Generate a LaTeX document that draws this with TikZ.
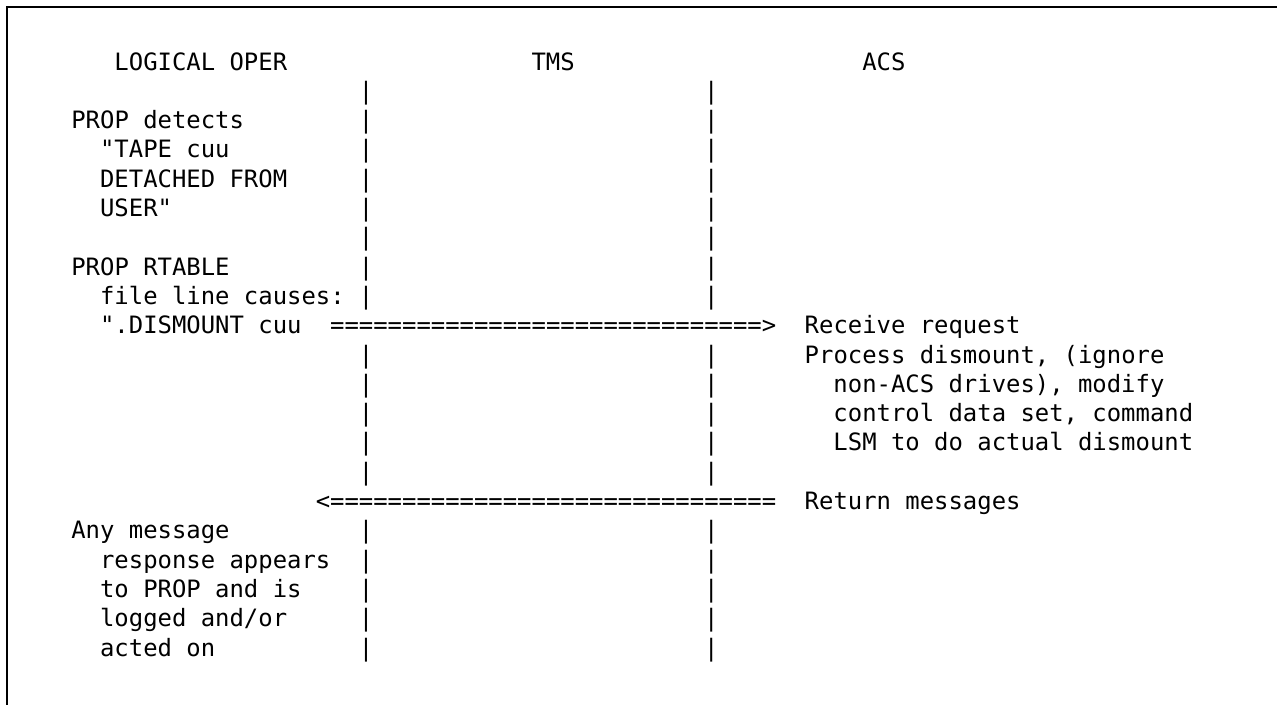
\documentclass[tikz,border=0pt]{standalone}
\usepackage{fontspec}
\setmonofont{DejaVu Sans Mono}
\frenchspacing

\begin{document}
\begin{tikzpicture}[x=0.2876cm, y=-0.586cm,
  font=\ttfamily\fontsize{13.6pt}{16pt}\selectfont,
  txt/.style={anchor=base west, inner sep=0pt}]

% Manually size the picture
\useasboundingbox (-1.42cm, 1.40cm) rectangle (24.12cm, -12.68cm);

% Frame, cut off at the right and at the bottom
\draw[line width=1.5pt] (-1.28cm, -12.9cm) -- (-1.28cm, 1.26cm) -- (24.4cm, 1.26cm);

% Column heads
\node[txt] (oper) at (3, 0) {LOGICAL OPER};
\node[txt] (tms) at (32, 0) {TMS};
\node[txt] (acs) at (55, 0) {ACS};

% Bars between the columns
\foreach \r in {1,2,3,4,5,6,7,8,10,11,12,13,14,16,17,18,19,20} {
  \node[txt] (tmsbar\r) at (20, \r) {|};
  \node[txt] (acsbar\r) at (44, \r) {|};
}

% PROP sees the detach message
\node[txt] (detects) at (0, 2) {PROP detects};
\node[txt] (tape) at (2, 3) {"TAPE cuu};
\node[txt] (detached) at (2, 4) {DETACHED FROM};
\node[txt] (user) at (2, 5) {USER"};

% RTABLE entry
\node[txt] (rtable) at (0, 7) {PROP RTABLE};
\node[txt] (causes) at (2, 8) {file line causes:};
\node[txt] (dismount) at (2, 9) {".DISMOUNT cuu};

% Request to ACS
\node[txt] (reqarrow) at (18, 9) {==============================>};
\node[txt] (receive) at (51, 9) {Receive request};

% ACS does the work
\node[txt] (process) at (51, 10) {Process dismount, (ignore};
\node[txt] (nonacs) at (53, 11) {non-ACS drives), modify};
\node[txt] (cds) at (53, 12) {control data set, command};
\node[txt] (lsm) at (53, 13) {LSM to do actual dismount};

% Messages back
\node[txt] (retarrow) at (17, 15) {<===============================};
\node[txt] (return) at (51, 15) {Return messages};

% PROP gets the response
\node[txt] (anymsg) at (0, 16) {Any message};
\node[txt] (response) at (2, 17) {response appears};
\node[txt] (toprop) at (2, 18) {to PROP and is};
\node[txt] (logged) at (2, 19) {logged and/or};
\node[txt] (acted) at (2, 20) {acted on};

\end{tikzpicture}
\end{document}
